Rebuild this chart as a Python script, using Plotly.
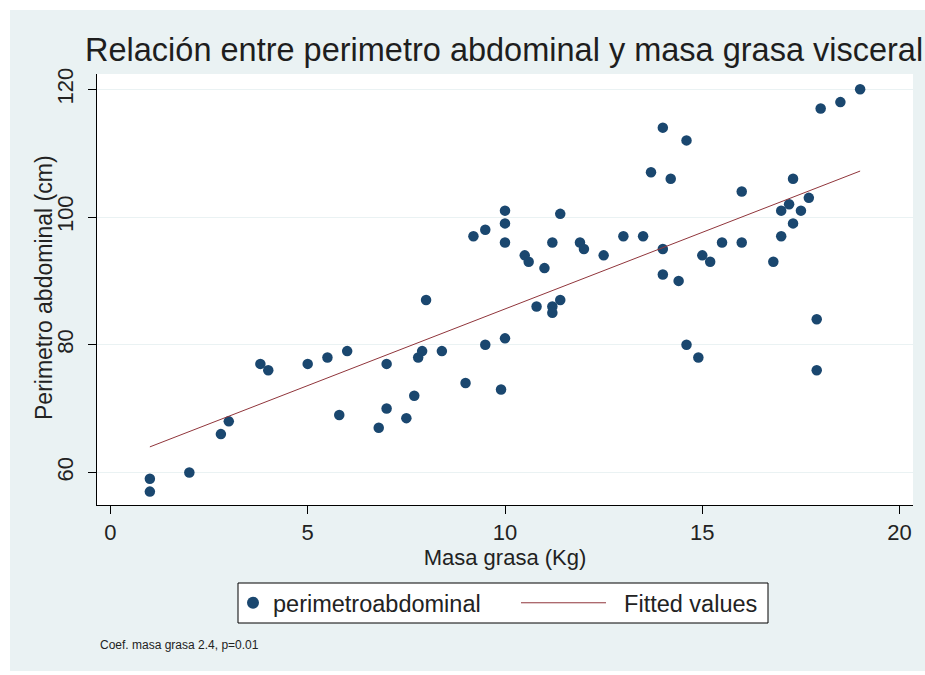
import plotly.graph_objects as go

masa_grasa = [1, 1, 2, 2.8, 3, 3.8, 4, 5, 5.5, 6, 5.8, 6.8, 7, 7, 7.5, 7.7, 7.8, 7.9, 8, 8.4,
              9, 9.2, 9.5, 9.5, 9.9, 10, 10, 10, 10, 10.5, 10.6, 11, 10.8, 11.2, 11.2, 11.2,
              11.4, 11.4, 11.9, 12, 12.5, 13, 13.5, 13.7, 14, 14, 14, 14.2, 14.4, 14.6, 14.6,
              14.9, 15, 15.2, 15.5, 16, 16, 16.8, 17, 17, 17.2, 17.3, 17.3, 17.5, 17.7, 17.9,
              17.9, 18, 18.5, 19]
perimetro = [59, 57, 60, 66, 68, 77, 76, 77, 78, 79, 69, 67, 70, 77, 68.5, 72, 78, 79, 87, 79,
             74, 97, 98, 80, 73, 81, 101, 99, 96, 94, 93, 92, 86, 96, 86, 85,
             87, 100.5, 96, 95, 94, 97, 97, 107, 114, 95, 91, 106, 90, 112, 80,
             78, 94, 93, 96, 104, 96, 93, 97, 101, 102, 106, 99, 101, 103, 84,
             76, 117, 118, 120]

fit_x = [1, 19]
fit_y = [64.0, 107.2]

x_ticks = [0, 5, 10, 15, 20]
y_ticks = [60, 80, 100, 120]

BG = "#eaf2f3"
TXT = "#222222"
FONT = "Liberation Sans, Arial, sans-serif"

W, H = 925, 675
L, R, T, B = 97, 913, 74, 505


def px(xp):
    return (xp - L) / (R - L)


def py(yp):
    return (B - yp) / (B - T)


fig = go.Figure()
fig.add_trace(go.Scatter(
    x=masa_grasa, y=perimetro, mode="markers", name="perimetroabdominal",
    marker=dict(color="#1a476f", size=10.5, line=dict(width=0)),
    legend="legend",
))
fig.add_trace(go.Scatter(
    x=fit_x, y=fit_y, mode="lines", name="\u00a0\u00a0Fitted values",
    line=dict(color="#90353b", width=1),
    legend="legend2",
))

shapes = [
    dict(type="rect", xref="paper", yref="paper", x0=px(-20), x1=px(W + 20), y0=py(10), y1=py(-20),
         fillcolor="white", line=dict(width=0), layer="below"),
    dict(type="rect", xref="paper", yref="paper", x0=px(-20), x1=px(10), y0=py(H + 20), y1=py(-20),
         fillcolor="white", line=dict(width=0), layer="below"),
    dict(type="rect", xref="paper", yref="paper", x0=px(-20), x1=px(W + 20), y0=py(H + 20), y1=py(671),
         fillcolor="white", line=dict(width=0), layer="below"),
    # legend frame
    dict(type="rect", xref="paper", yref="paper", x0=px(238), x1=px(768), y0=py(623), y1=py(583),
         fillcolor="white", line=dict(width=1, color="black"), layer="above"),
]

leg_common = dict(orientation="h", bgcolor="rgba(0,0,0,0)", borderwidth=0,
                  font=dict(size=23.5, color=TXT), xref="container", yref="container",
                  yanchor="middle", y=1 - 603 / H, xanchor="left")

fig.update_layout(
    width=W, height=H,
    margin=dict(l=L, r=W - R, t=T, b=H - B),
    paper_bgcolor=BG, plot_bgcolor="white",
    font=dict(family=FONT, color=TXT, size=22),
    title=dict(text="Relación entre perimetro abdominal y masa grasa visceral",
               x=85 / W, xanchor="left", xref="container",
               y=1 - 50 / H, yanchor="middle", yref="container",
               font=dict(size=32.5, color="#1e1e1e")),
    xaxis=dict(range=[-0.34, 20.34], tickvals=x_ticks, ticks="outside", ticklen=8,
               tickcolor="black", showline=True, linecolor="black", linewidth=1,
               showgrid=False, zeroline=False, tickfont=dict(size=22),
               title=dict(text="Masa grasa (Kg)", font=dict(size=22), standoff=0)),
    yaxis=dict(range=[54.9, 122.4], tickvals=y_ticks, ticks="outside", ticklen=8,
               tickcolor="black", showline=True, linecolor="black", linewidth=1,
               showgrid=True, gridcolor=BG, gridwidth=1, zeroline=False,
               tickangle=-90, tickfont=dict(size=22), ticklabelstandoff=6),
    legend=dict(x=(253 - 20) / W, itemwidth=30, itemsizing="constant", **leg_common),
    legend2=dict(x=(521 - 5) / W, itemwidth=85, **leg_common),
    shapes=shapes,
    annotations=[
        dict(text="Perimetro abdominal (cm)", xref="paper", yref="paper",
             x=px(44), y=py(288), xanchor="center", yanchor="middle", textangle=-90,
             showarrow=False, font=dict(size=23, color=TXT)),
        dict(text="Coef. masa grasa 2.4, p=0.01", xref="paper", yref="paper",
             x=px(98), y=py(645), xanchor="left", yanchor="middle",
             showarrow=False, font=dict(size=12, color=TXT)),
    ],
    showlegend=True,
)

fig.write_html("out.html",
               config={"displayModeBar": False},
               post_script="document.documentElement.style.margin='0';"
                           "document.documentElement.style.overflow='hidden';"
                           "document.body.style.margin='0';"
                           "document.body.style.overflow='hidden';")
